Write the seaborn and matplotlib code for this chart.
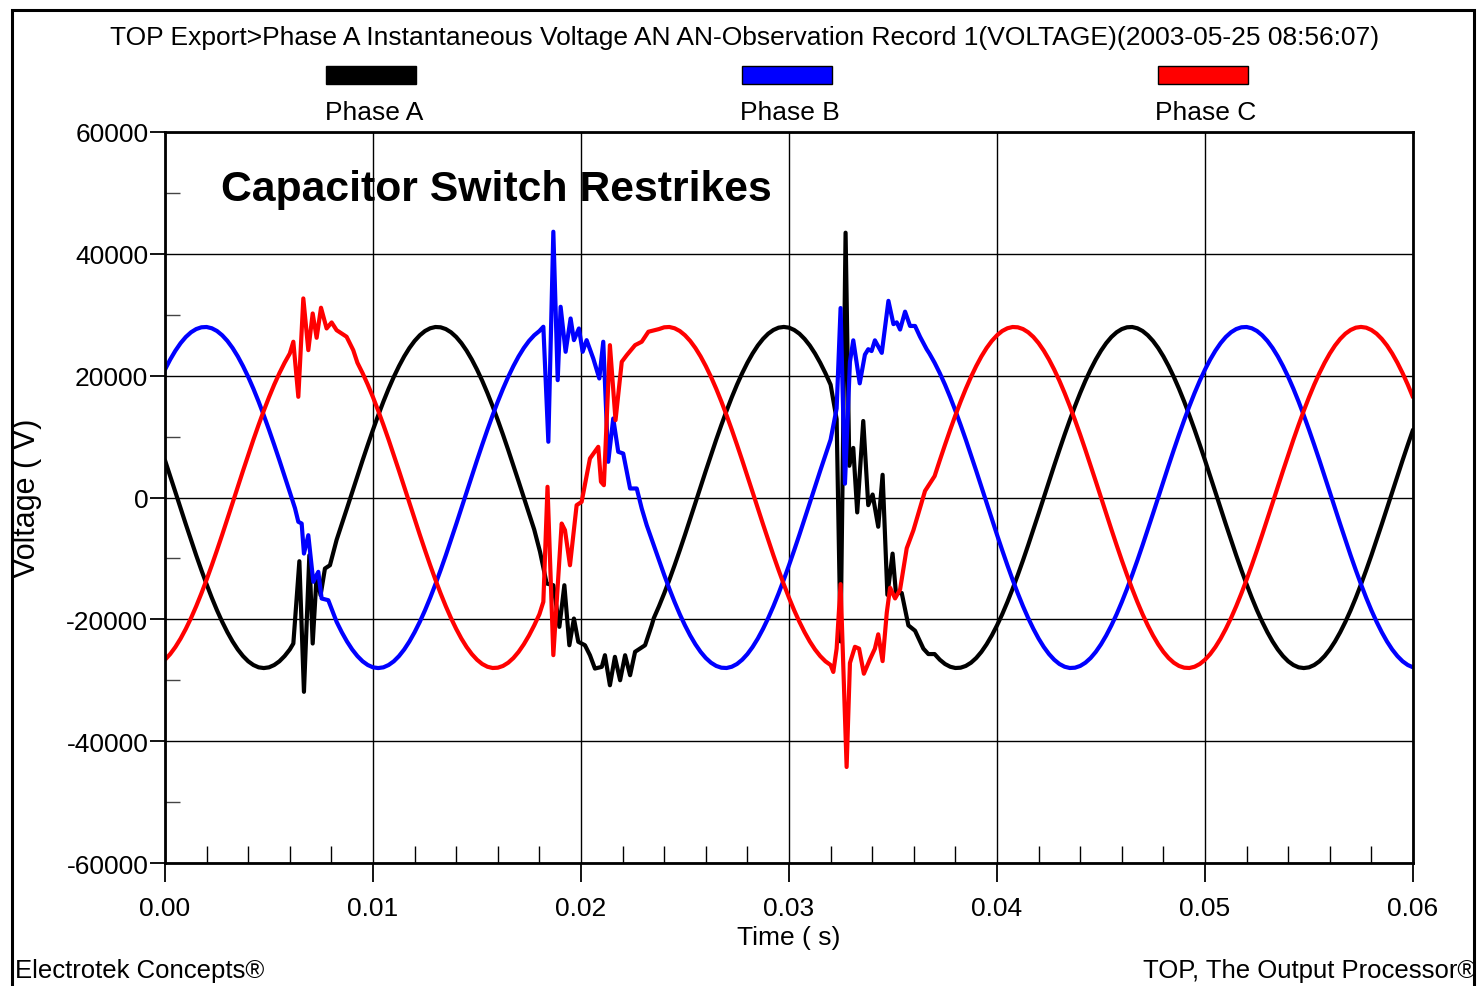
import numpy as np
import pandas as pd
import matplotlib
matplotlib.use("Agg")
import matplotlib.pyplot as plt
from matplotlib.patches import Rectangle
from matplotlib.ticker import MultipleLocator
import seaborn as sns

# ---------------------------------------------------------------------------
# Recorded phase-to-neutral voltages (V).
# Steady-state stretches are stored as runs of samples taken every STEP
# seconds, starting at the given sample index; the switching bursts are
# stored as explicit (time, voltage) pairs.
# ---------------------------------------------------------------------------
STEP = 0.00025  # s

phase_names = ["Phase A", "Phase B", "Phase C"]
phase_colors = ["#000000", "#0000ff", "#ff0000"]

phase_a_steady = [
    (0, [6110, 3510, 880, -1760, -4380, -6960, -9490, -11920, -14250, -16460,
         -18520, -20410, -22120, -23640, -24950, -26030, -26890, -27500, -27880,
         -28000, -27880, -27500, -26890, -26030, -24950]),
    (33, [-6960, -4380, -1760, 880, 3510, 6110, 8650, 11120, 13490, 15740,
          17850, 19800, 21570, 23160, 24540, 25700, 26630, 27330, 27780, 27990,
          27940, 27650, 27120, 26350, 25340, 24100, 22650, 21000, 19170, 17160,
          15000, 12710, 10310, 7810, 5250, 2640, 0, -2640, -5250]),
    (94, [-19800, -17850, -15740, -13490, -11120, -8650, -6110, -3510, -880,
          1760, 4380, 6960, 9490, 11920, 14250, 16460, 18520, 20410, 22120,
          23640, 24950, 26030, 26890, 27500, 27880, 28000, 27880, 27500, 26890,
          26030, 24950, 23640, 22120, 20410, 18520]),
    (148, [-25700, -26630, -27330, -27780, -27990, -27940, -27650, -27120,
           -26350, -25340, -24100, -22650, -21000, -19170, -17160, -15000,
           -12710, -10310, -7810, -5250, -2640, 0, 2640, 5250, 7810, 10310,
           12710, 15000, 17160, 19170, 21000, 22650, 24100, 25340, 26350, 27120,
           27650, 27940, 27990, 27780, 27330, 26630, 25700, 24540, 23160, 21570,
           19800, 17850, 15740, 13490, 11120, 8650, 6110, 3510, 880, -1760,
           -4380, -6960, -9490, -11920, -14250, -16460, -18520, -20410, -22120,
           -23640, -24950, -26030, -26890, -27500, -27880, -28000, -27880,
           -27500, -26890, -26030, -24950, -23640, -22120, -20410, -18520,
           -16460, -14250, -11920, -9490, -6960, -4380, -1760, 880, 3510, 6110,
           8650, 11120]),
]
phase_a_burst_t = [
    0.00617, 0.00646, 0.00668, 0.00694, 0.0071, 0.00729, 0.00748, 0.00769, 0.00793,
    0.01803, 0.01835, 0.01867, 0.01896, 0.0192, 0.01944, 0.01966, 0.01987, 0.02019,
    0.02043, 0.02067, 0.021, 0.02115, 0.02139, 0.02163, 0.02188, 0.02212, 0.02236,
    0.0226, 0.02308, 0.0234,
    0.03229, 0.03248, 0.03272, 0.0329, 0.03309, 0.03328, 0.03357, 0.03381, 0.03402,
    0.03429, 0.0345, 0.03473, 0.03498, 0.03514, 0.03542, 0.03574, 0.03606, 0.03646,
    0.0367,
]
phase_a_burst_v = [
    -23970, -10460, -31900, -9470, -23970, -12760, -16040, -11660, -11120,
    -8920, -14120, -14400, -21230, -14400, -24250, -19870, -23690, -24250,
    -25890, -28080, -27800, -25890, -30820, -26160, -30000, -25890, -29180,
    -25330, -24250, -20970,
    12860, -23630, 43470, 5210, 8140, -2450, 12560, -1260, 490,
    -4800, 3730, -15980, -9210, -15680, -15680, -20990, -21870, -24810,
    -25700,
]

phase_b_steady = [
    (0, [21000, 22650, 24100, 25340, 26350, 27120, 27650, 27940, 27990, 27780,
         27330, 26630, 25700, 24540, 23160, 21570, 19800, 17850, 15740, 13490,
         11120, 8650, 6110, 3510, 880, -1760]),
    (33, [-20410, -22120, -23640, -24950, -26030, -26890, -27500, -27880,
          -28000, -27880, -27500, -26890, -26030, -24950, -23640, -22120,
          -20410, -18520, -16460, -14250, -11920, -9490, -6960, -4380, -1760,
          880, 3510, 6110, 8650, 11120, 13490, 15740, 17850, 19800, 21570,
          23160, 24540, 25700, 26630, 27330]),
    (95, [-10310, -12710, -15000, -17160, -19170, -21000, -22650, -24100,
          -25340, -26350, -27120, -27650, -27940, -27990, -27780, -27330,
          -26630, -25700, -24540, -23160, -21570, -19800, -17850, -15740,
          -13490, -11120, -8650, -6110, -3510, -880, 1760, 4380, 6960, 9490]),
    (147, [23640, 22120, 20410, 18520, 16460, 14250, 11920, 9490, 6960, 4380,
           1760, -880, -3510, -6110, -8650, -11120, -13490, -15740, -17850,
           -19800, -21570, -23160, -24540, -25700, -26630, -27330, -27780,
           -27990, -27940, -27650, -27120, -26350, -25340, -24100, -22650,
           -21000, -19170, -17160, -15000, -12710, -10310, -7810, -5250, -2640,
           0, 2640, 5250, 7810, 10310, 12710, 15000, 17160, 19170, 21000, 22650,
           24100, 25340, 26350, 27120, 27650, 27940, 27990, 27780, 27330, 26630,
           25700, 24540, 23160, 21570, 19800, 17850, 15740, 13490, 11120, 8650,
           6110, 3510, 880, -1760, -4380, -6960, -9490, -11920, -14250, -16460,
           -18520, -20410, -22120, -23640, -24950, -26030, -26890, -27500,
           -27880]),
]
phase_b_burst_t = [
    0.00641, 0.00657, 0.00668, 0.00689, 0.00713, 0.00737, 0.00753, 0.00785,
    0.01819, 0.01843, 0.01867, 0.01888, 0.01902, 0.01926, 0.0195, 0.01966, 0.0199,
    0.02008, 0.02027, 0.02059, 0.02088, 0.02107, 0.02131, 0.02155, 0.02179,
    0.02203, 0.02236, 0.02268, 0.02292, 0.02316,
    0.03229, 0.03248, 0.03269, 0.03293, 0.03309, 0.0334, 0.03365, 0.03381,
    0.03397, 0.03413, 0.03446, 0.03478, 0.03502, 0.03518, 0.03534, 0.03558,
    0.03582, 0.03606, 0.0363, 0.03662,
]
phase_b_burst_v = [
    -3990, -4270, -9200, -6190, -13840, -12200, -16580, -16860,
    28030, 9150, 43630, 19260, 31310, 23920, 29390, 25830, 27750,
    23920, 25830, 22820, 19540, 25570, 5860, 12970, 7500,
    7220, 1480, 1480, -1810, -4550,
    14610, 31100, 2270, 22270, 25800, 18740, 23450, 24340,
    24040, 25800, 23740, 32280, 28460, 28750, 27570, 30510,
    28160, 28160, 26390, 24330,
]

phase_c_steady = [
    (0, [-26630, -25700, -24540, -23160, -21570, -19800, -17850, -15740,
         -13490, -11120, -8650, -6110, -3510, -880, 1760, 4380, 6960, 9490,
         11920, 14250, 16460, 18520, 20410, 22120, 23640]),
    (37, [22120, 20410, 18520, 16460, 14250, 11920, 9490, 6960, 4380, 1760,
          -880, -3510, -6110, -8650, -11120, -13490, -15740, -17850, -19800,
          -21570, -23160, -24540, -25700, -26630, -27330, -27780, -27990,
          -27940, -27650, -27120, -26350, -25340, -24100, -22650, -21000,
          -19170]),
    (95, [27650, 27940, 27990, 27780, 27330, 26630, 25700, 24540, 23160,
          21570, 19800, 17850, 15740, 13490, 11120, 8650, 6110, 3510, 880,
          -1760, -4380, -6960, -9490, -11920, -14250, -16460, -18520, -20410,
          -22120, -23640, -24950, -26030, -26890, -27500]),
    (148, [3510, 6110, 8650, 11120, 13490, 15740, 17850, 19800, 21570, 23160,
           24540, 25700, 26630, 27330, 27780, 27990, 27940, 27650, 27120, 26350,
           25340, 24100, 22650, 21000, 19170, 17160, 15000, 12710, 10310, 7810,
           5250, 2640, 0, -2640, -5250, -7810, -10310, -12710, -15000, -17160,
           -19170, -21000, -22650, -24100, -25340, -26350, -27120, -27650,
           -27940, -27990, -27780, -27330, -26630, -25700, -24540, -23160,
           -21570, -19800, -17850, -15740, -13490, -11120, -8650, -6110, -3510,
           -880, 1760, 4380, 6960, 9490, 11920, 14250, 16460, 18520, 20410,
           22120, 23640, 24950, 26030, 26890, 27500, 27880, 28000, 27880, 27500,
           26890, 26030, 24950, 23640, 22120, 20410, 18520, 16460]),
]
phase_c_burst_t = [
    0.00617, 0.00641, 0.00665, 0.00689, 0.0071, 0.00729, 0.0075, 0.00777, 0.00801,
    0.00825, 0.00873, 0.00905,
    0.01819, 0.01839, 0.01867, 0.01907, 0.01923, 0.01947, 0.01979, 0.02003,
    0.02043, 0.02083, 0.02096, 0.0211, 0.02139, 0.02166, 0.02196, 0.0222, 0.0226,
    0.02292, 0.02324,
    0.03213, 0.03229, 0.03248, 0.03277, 0.03293, 0.03317, 0.03337, 0.0336,
    0.03389, 0.03413, 0.03429, 0.0345, 0.0347, 0.03486, 0.0351, 0.03534, 0.03566,
    0.03598, 0.03654,
]
phase_c_burst_v = [
    25570, 16530, 32680, 24190, 30210, 26220, 31150, 27750, 28740,
    27470, 26390, 24190,
    -17120, 1760, -25880, -4270, -5370, -11120, -1260, -710,
    6400, 8320, 2580, 2020, 25010, 12690, 22280, 23370, 25010,
    25570, 27210,
    -28640, -24810, -14220, -44240, -27160, -24510, -24810, -28930,
    -26580, -24810, -22460, -26860, -18930, -14810, -16570, -15110, -8330,
    -5390, 1080,
]

x_ticks = [0.00, 0.01, 0.02, 0.03, 0.04, 0.05, 0.06]
x_tick_labels = ["0.00", "0.01", "0.02", "0.03", "0.04", "0.05", "0.06"]
y_ticks = [-60000, -40000, -20000, 0, 20000, 40000, 60000]
y_tick_labels = ["-60000", "-40000", "-20000", "0", "20000", "40000", "60000"]

title_text = ("TOP Export>Phase A Instantaneous Voltage AN AN-Observation "
              "Record 1(VOLTAGE)(2003-05-25 08:56:07)")
event_text = "Capacitor Switch Restrikes"


def build_phase(name, steady, burst_t, burst_v):
    t_parts, v_parts = [], []
    for first, vals in steady:
        t_parts.append((first + np.arange(len(vals))) * STEP)
        v_parts.append(np.asarray(vals, dtype=float))
    t_parts.append(np.asarray(burst_t, dtype=float))
    v_parts.append(np.asarray(burst_v, dtype=float))
    t = np.concatenate(t_parts)
    v = np.concatenate(v_parts)
    order = np.argsort(t, kind="stable")
    return pd.DataFrame({"time": t[order], "voltage": v[order], "phase": name})


df = pd.concat([
    build_phase(phase_names[0], phase_a_steady, phase_a_burst_t, phase_a_burst_v),
    build_phase(phase_names[1], phase_b_steady, phase_b_burst_t, phase_b_burst_v),
    build_phase(phase_names[2], phase_c_steady, phase_c_burst_t, phase_c_burst_v),
], ignore_index=True)

# ---------------------------------------------------------------------------
sns.set_style("white")
plt.rcParams["font.family"] = ["Liberation Sans", "DejaVu Sans"]
plt.rcParams["text.color"] = "black"
plt.rcParams["axes.labelcolor"] = "black"
plt.rcParams["xtick.color"] = "black"
plt.rcParams["ytick.color"] = "black"

W, H = 1480, 987
fig = plt.figure(figsize=(W / 100, H / 100), dpi=100)
fig.patch.set_facecolor("white")


def fx(px):
    return px / W


def fy(py):
    return 1 - py / H


ax = fig.add_axes([fx(165), fy(864), fx(1413) - fx(165), fy(133) - fy(864)])

sns.lineplot(data=df, x="time", y="voltage", hue="phase",
             hue_order=phase_names, palette=dict(zip(phase_names, phase_colors)),
             estimator=None, sort=True, linewidth=3.0, legend=False, ax=ax)

ax.set_xlim(0, 0.06)
ax.set_ylim(-60000, 60000)
ax.set_xticks(x_ticks)
ax.set_xticklabels(x_tick_labels)
ax.set_yticks(y_ticks)
ax.set_yticklabels(y_tick_labels)
ax.xaxis.set_minor_locator(MultipleLocator(0.002))
ax.yaxis.set_minor_locator(MultipleLocator(10000))
ax.tick_params(which="both", bottom=True, left=True, top=False, right=False)
ax.tick_params(axis="x", which="major", direction="out", length=14, width=1.3,
               pad=10, labelsize=19, colors="black")
ax.tick_params(axis="x", which="minor", direction="in", length=12, width=1.0,
               colors="black")
ax.tick_params(axis="y", which="major", direction="out", length=11, width=1.3,
               pad=1, labelsize=19, colors="black")
ax.tick_params(axis="y", which="minor", direction="in", length=11, width=1.0,
               colors="#444444")
ax.grid(True, which="major", color="black", linewidth=1.0)
ax.set_axisbelow(True)
for side, sp in ax.spines.items():
    sp.set_visible(True)
    sp.set_color("black")
    sp.set_linewidth(2.0)

ax.set_xlabel("Time ( s)", fontsize=19, color="black")
ax.set_ylabel("Voltage ( V)", fontsize=22, color="black")
ax.xaxis.set_label_coords(0.5, (864 - 938) / (864 - 133))
ax.xaxis.label.set_verticalalignment("center")
ax.yaxis.set_label_coords((27 - 165) / (1413 - 165), 0.5)
ax.yaxis.label.set_verticalalignment("center")

ax.text((221 - 165) / (1413 - 165), (864 - 190) / (864 - 133), event_text,
        transform=ax.transAxes, fontsize=30.8, fontweight="bold",
        ha="left", va="center", color="black")

# header and swatch key above the plot
fig.text(fx(745), fy(38), title_text, ha="center", va="center", fontsize=19,
         color="black")
for name, color, cx in zip(phase_names, phase_colors, [371, 787, 1203]):
    fig.add_artist(Rectangle((fx(cx - 45), fy(85)), fx(90), 18 / H,
                             transform=fig.transFigure, facecolor=color,
                             edgecolor="black", linewidth=1.0))
    fig.text(fx(cx + 3), fy(113), name, ha="center", va="center", fontsize=19,
             color="black")

# footer credits
fig.text(fx(15), fy(971), "Electrotek Concepts®", ha="left", va="center",
         fontsize=18.5, color="black")
fig.text(fx(1476), fy(971), "TOP, The Output Processor®", ha="right",
         va="center", fontsize=18.5, color="black")

# outer frame
fig.add_artist(Rectangle((fx(12), -0.01), fx(1474) - fx(12), fy(11) + 0.01,
                         transform=fig.transFigure, fill=False,
                         edgecolor="black", linewidth=2.2))

fig.savefig("out.png", dpi=100, facecolor="white")
